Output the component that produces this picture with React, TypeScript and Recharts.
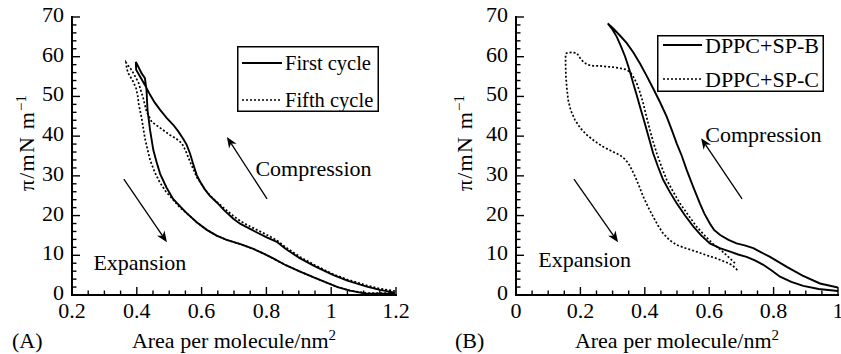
import React from 'react';
import { LineChart, Line, XAxis, YAxis, ReferenceLine, ReferenceDot, Legend } from 'recharts';

const FONT = '"Liberation Serif", "DejaVu Serif", serif';
const FS = 22;
const TS = { fontFamily: FONT, fontSize: FS };

// ---------- Panel A : first vs fifth cycle ----------
const firstCycleArea = [
  1.197, 1.15, 1.11, 1.05, 1.007, 0.95, 0.904, 0.86, 0.832, 0.801, 0.76, 0.72, 0.698, 0.67, 0.647, 0.625,
  0.61, 0.595, 0.585, 0.574, 0.564, 0.554, 0.544, 0.528, 0.513, 0.492, 0.472, 0.455, 0.441, 0.425, 0.41,
  0.398, 0.397,
  0.402, 0.415, 0.425, 0.43, 0.433, 0.441, 0.451, 0.461, 0.472, 0.492, 0.512, 0.533, 0.554, 0.585, 0.616,
  0.645, 0.677, 0.72, 0.76, 0.79, 0.821, 0.86, 0.904, 0.95, 0.986, 1.02, 1.058, 1.11, 1.197,
];
const firstCyclePi = [
  0.6, 1.3, 2.1, 3.6, 5.0, 7.2, 9.2, 11.6, 13.4, 14.5, 16.2, 17.9, 19.2, 21.3, 23.3, 25.0,
  26.6, 28.6, 30.2, 33.0, 35.7, 37.8, 39.2, 41.2, 42.8, 44.6, 46.6, 48.5, 50.4, 52.9, 55.0,
  56.7, 58.7,
  57.9, 55.8, 54.6, 51.6, 46.6, 41.5, 36.5, 33.5, 30.5, 27.0, 24.2, 22.4, 20.6, 18.3, 16.4,
  15.0, 13.9, 12.8, 11.6, 10.5, 9.2, 7.5, 5.9, 4.3, 3.1, 2.0, 1.1, 0.3, 0.3,
];
const fifthCycleArea = [
  1.197, 1.15, 1.11, 1.05, 1.007, 0.95, 0.904, 0.86, 0.832, 0.8, 0.749, 0.72, 0.698, 0.67, 0.636, 0.61,
  0.595, 0.585, 0.574, 0.564, 0.551, 0.539, 0.52, 0.502, 0.475, 0.446, 0.43, 0.42, 0.405, 0.385, 0.367,
  0.369, 0.374, 0.389, 0.398, 0.403, 0.406, 0.41, 0.415, 0.42, 0.425, 0.432, 0.441, 0.455, 0.47, 0.49,
  0.513, 0.533, 0.554, 0.585, 0.616, 0.645, 0.677, 0.72, 0.76, 0.79, 0.821, 0.86, 0.904, 0.95, 0.986,
  1.02, 1.058, 1.11, 1.197,
];
const fifthCyclePi = [
  1.0, 1.6, 2.4, 3.9, 5.2, 7.5, 9.6, 12.0, 13.8, 15.2, 17.3, 18.6, 19.9, 21.8, 24.2, 26.6,
  28.5, 29.6, 31.8, 33.6, 36.3, 38.2, 39.5, 40.3, 41.9, 43.6, 46.2, 49.5, 53.5, 56.5, 58.5,
  57.0, 55.8, 53.7, 52.0, 50.0, 48.0, 46.5, 44.5, 42.0, 39.5, 37.0, 34.0, 31.0, 28.5, 26.0,
  23.9, 22.0, 20.6, 18.3, 16.4, 15.0, 13.9, 12.8, 11.6, 10.5, 9.2, 7.5, 5.9, 4.3, 3.1,
  2.0, 1.1, 0.5, 0.5,
];

// ---------- Panel B : DPPC + SP-B vs DPPC + SP-C ----------
const spbArea = [
  1.0, 0.944, 0.89, 0.841, 0.789, 0.76, 0.737, 0.71, 0.685, 0.66, 0.634, 0.615, 0.602, 0.585, 0.571,
  0.55, 0.53, 0.515, 0.499, 0.484, 0.468, 0.447, 0.426, 0.405, 0.385, 0.365, 0.344, 0.322, 0.302, 0.285,
  0.3, 0.313, 0.326, 0.339, 0.352, 0.364, 0.375, 0.385, 0.396, 0.406, 0.416, 0.426, 0.441, 0.457, 0.478,
  0.499, 0.525, 0.551, 0.575, 0.602, 0.633, 0.665, 0.69, 0.716, 0.742, 0.768, 0.795, 0.82, 0.855, 0.892,
  0.94, 1.0,
];
const spbPi = [
  1.9, 2.9, 4.9, 7.1, 9.6, 10.8, 11.8, 12.5, 13.0, 13.9, 15.1, 16.4, 18.0, 20.5, 23.1,
  27.3, 31.5, 35.0, 38.2, 41.5, 44.9, 48.6, 52.0, 55.3, 58.3, 61.0, 63.4, 65.4, 67.1, 68.4,
  66.8, 65.0, 62.6, 60.0, 56.8, 53.3, 50.3, 47.4, 44.4, 41.5, 38.6, 35.7, 32.3, 29.0, 25.9,
  23.1, 20.0, 17.2, 15.0, 13.0, 11.8, 10.9, 10.2, 9.6, 8.7, 7.6, 6.1, 4.6, 3.3, 2.3,
  1.5, 1.0,
];
const spcArea = [
  0.68, 0.654, 0.634, 0.613, 0.588, 0.561, 0.535, 0.509, 0.488, 0.468, 0.452, 0.437, 0.426, 0.416, 0.405,
  0.395, 0.385, 0.375, 0.364, 0.354, 0.34, 0.323, 0.3, 0.282, 0.26, 0.24, 0.222, 0.209, 0.198, 0.189,
  0.173, 0.157, 0.154,
  0.154, 0.155, 0.158, 0.162, 0.17, 0.183, 0.2, 0.22, 0.245, 0.271, 0.298, 0.323, 0.337, 0.349, 0.36,
  0.37, 0.383, 0.395, 0.41, 0.426, 0.441, 0.457, 0.477, 0.499, 0.53, 0.561, 0.592, 0.623, 0.648, 0.67,
  0.69,
];
const spcPi = [
  8.0, 10.0, 11.5, 12.8, 14.8, 17.2, 20.1, 23.1, 26.0, 29.0, 32.3, 35.7, 38.6, 41.5, 45.0,
  48.3, 51.0, 53.3, 55.0, 56.2, 56.8, 57.1, 57.4, 57.5, 57.7, 57.7, 58.0, 58.7, 59.8, 60.9,
  61.1, 60.9, 60.5,
  58.0, 55.0, 52.0, 49.1, 46.5, 44.1, 42.0, 40.3, 38.7, 37.3, 36.2, 35.2, 34.3, 33.2, 31.5,
  29.8, 27.3, 24.8, 22.2, 19.7, 17.5, 15.5, 13.8, 12.6, 11.7, 10.9, 10.0, 9.2, 8.4, 7.6,
  6.1,
];

// ---------- ticks & labels ----------
const panelAXTicks = [0.2, 0.4, 0.6, 0.8, 1, 1.2];
const panelBXTicks = [0, 0.2, 0.4, 0.6, 0.8, 1];
const piTicks = [0, 10, 20, 30, 40, 50, 60, 70];
const legendA = ['First cycle', 'Fifth cycle'];
const legendB = ['DPPC+SP-B', 'DPPC+SP-C'];
const xTitle = 'Area per molecule/nm';
const yTitle = 'π/mN m';
const compressionLabel = 'Compression';
const expansionLabel = 'Expansion';

const zip = (xs: number[], ys: number[]) => xs.map((x, i) => ({ x, y: ys[i] }));

const withMinor = (majors: number[], per: number) => {
  const out: number[] = [];
  for (let i = 0; i < majors.length - 1; i++) {
    const a = majors[i];
    const b = majors[i + 1];
    for (let k = 0; k < per; k++) out.push(+(a + ((b - a) * k) / per).toFixed(4));
  }
  out.push(majors[majors.length - 1]);
  return out;
};

const isMajor = (v: number, majors: number[]) => majors.some((m) => Math.abs(m - v) < 1e-6);
const fmt = (v: number) => String(Math.round(v * 100) / 100);

const makeTick = (side: 'bottom' | 'top' | 'left' | 'right', majors: number[], showLabel: boolean) =>
  (props: any) => {
    const { x, y, payload } = props;
    const v = payload.value;
    const major = isMajor(v, majors);
    const len = major ? 8 : 4.5;
    let x2 = x;
    let y2 = y;
    if (side === 'bottom') y2 = y - len;
    if (side === 'top') y2 = y + len;
    if (side === 'left') x2 = x + len;
    if (side === 'right') x2 = x - len;
    let label = null;
    if (showLabel && major) {
      if (side === 'bottom') {
        label = (
          <text x={x} y={y + 23} textAnchor="middle" style={TS} fill="#000">
            {fmt(v)}
          </text>
        );
      } else if (side === 'left') {
        label = (
          <text x={x - 8} y={y + 5} textAnchor="end" style={TS} fill="#000">
            {fmt(v)}
          </text>
        );
      }
    }
    return (
      <g>
        <line x1={x} y1={y} x2={x2} y2={y2} stroke="#000" strokeWidth={1.4} />
        {label}
      </g>
    );
  };

const Arrow = (p: any) => {
  const { x1, y1, x2, y2 } = p;
  const dx = x2 - x1;
  const dy = y2 - y1;
  const len = Math.hypot(dx, dy) || 1;
  const ux = dx / len;
  const uy = dy / len;
  const hl = 11;
  const hw = 4.5;
  const bx = x2 - ux * hl;
  const by = y2 - uy * hl;
  const nx = x2 - ux * hl * 0.7;
  const ny = y2 - uy * hl * 0.7;
  const pts = `${x2},${y2} ${bx - uy * hw},${by + ux * hw} ${nx},${ny} ${bx + uy * hw},${by - ux * hw}`;
  return (
    <g>
      <line x1={x1} y1={y1} x2={nx} y2={ny} stroke="#000" strokeWidth={1.3} />
      <polygon points={pts} fill="#000" />
    </g>
  );
};

const noteShape = (text: string) => (p: any) => (
  <text x={p.cx} y={p.cy} dy="0.35em" textAnchor="start" style={TS} fill="#000">
    {text}
  </text>
);

type Series = { data: { x: number; y: number }[]; dash?: string };

const LegendBox = ({ w, h, items, rows, lineX1, lineX2, textX, fontSize }: any) => (
  <svg width={w} height={h} style={{ display: 'block', overflow: 'visible' }}>
    <rect x={0.75} y={0.75} width={w - 1.5} height={h - 1.5} fill="#fff" stroke="#000" strokeWidth={1.5} />
    {items.map((it: any, i: number) => (
      <g key={i}>
        <line
          x1={lineX1}
          x2={lineX2}
          y1={rows[i]}
          y2={rows[i]}
          stroke="#000"
          strokeWidth={it.dash ? 1.6 : 1.8}
          strokeDasharray={it.dash}
        />
        <text x={textX} y={rows[i]} dy="0.35em" style={{ fontFamily: FONT, fontSize }} fill="#000">
          {it.label}
        </text>
      </g>
    ))}
  </svg>
);

const axisLine = { stroke: '#000', strokeWidth: 2, strokeLinecap: 'square' as const };

function Panel(props: any) {
  const {
    left, width, yAxisWidth, marginRight, xDomain, xMajor, lines, legend, arrows, notes, tag, tagX, yTitleX,
  } = props;
  const xTicks = withMinor(xMajor, 4);
  const yTicks = withMinor(piTicks, 5);
  return (
    <div style={{ position: 'absolute', left, top: 0, width, height: 354, fontFamily: FONT }}>
      <LineChart width={width} height={354} margin={{ top: 17, right: marginRight, bottom: 0, left: 0 }} style={{ fontFamily: FONT }}>
        <XAxis
          xAxisId={0}
          dataKey="x"
          type="number"
          domain={xDomain}
          ticks={xTicks}
          interval={0}
          allowDataOverflow
          height={59}
          tickSize={0}
          tickMargin={0}
          axisLine={axisLine}
          tickLine={false}
          tick={makeTick('bottom', xMajor, true)}
          label={{
            content: (p: any) => {
              const vb = p.viewBox || { x: yAxisWidth, y: 295, width: width - yAxisWidth - marginRight, height: 59 };
              return (
                <g>
                  <text x={vb.x + vb.width / 2} y={vb.y + 53} textAnchor="middle" style={TS} fill="#000">
                    {xTitle}
                    <tspan dy={-8} style={{ fontSize: 15 }}>2</tspan>
                  </text>
                  <text x={tagX} y={vb.y + 53} style={TS} fill="#000">
                    {tag}
                  </text>
                </g>
              );
            },
          }}
        />
        <XAxis
          xAxisId="top"
          orientation="top"
          dataKey="x"
          type="number"
          domain={xDomain}
          ticks={xTicks}
          interval={0}
          allowDataOverflow
          height={0}
          tickSize={0}
          tickMargin={0}
          axisLine={axisLine}
          tickLine={false}
          tick={makeTick('top', xMajor, false)}
        />
        <YAxis
          yAxisId={0}
          type="number"
          domain={[0, 70]}
          ticks={yTicks}
          interval={0}
          allowDataOverflow
          width={yAxisWidth}
          tickSize={0}
          tickMargin={0}
          axisLine={axisLine}
          tickLine={false}
          tick={makeTick('left', piTicks, true)}
          label={{
            content: () => {
              const cx = yTitleX;
              const cy = 143;
              return (
                <text
                  x={cx}
                  y={cy}
                  transform={`rotate(-90 ${cx} ${cy})`}
                  textAnchor="middle"
                  dy="0.35em"
                  style={{ ...TS, letterSpacing: 1.2 }}
                  fill="#000"
                >
                  {yTitle}
                  <tspan dy={-8} style={{ fontSize: 15, letterSpacing: 0 }}>−1</tspan>
                </text>
              );
            },
          }}
        />
        <YAxis
          yAxisId="right"
          orientation="right"
          type="number"
          domain={[0, 70]}
          ticks={yTicks}
          interval={0}
          allowDataOverflow
          width={0}
          tickSize={0}
          tickMargin={0}
          axisLine={axisLine}
          tickLine={false}
          tick={makeTick('right', piTicks, false)}
        />
        {lines.map((l: Series, i: number) => (
          <Line
            key={i}
            data={l.data}
            dataKey="y"
            xAxisId={0}
            yAxisId={0}
            type="linear"
            stroke="#000"
            strokeWidth={l.dash ? 1.7 : 1.9}
            strokeDasharray={l.dash}
            dot={false}
            activeDot={false}
            isAnimationActive={false}
          />
        ))}
        {arrows.map((a: any, i: number) => (
          <ReferenceLine
            key={'a' + i}
            xAxisId={0}
            yAxisId={0}
            segment={a}
            ifOverflow="visible"
            shape={(p: any) => <Arrow {...p} />}
          />
        ))}
        {notes.map((n: any, i: number) => (
          <ReferenceDot
            key={'n' + i}
            xAxisId={0}
            yAxisId={0}
            x={n.x}
            y={n.y}
            r={1}
            ifOverflow="visible"
            shape={noteShape(n.text)}
          />
        ))}
        <Legend
          layout="horizontal"
          verticalAlign="middle"
          align="center"
          wrapperStyle={{ left: legend.left, top: legend.top, width: legend.w, height: legend.h }}
          content={() => <LegendBox {...legend} />}
        />
      </LineChart>
    </div>
  );
}

export default function App() {
  return (
    <div style={{ position: 'absolute', left: 0, top: 0, width: 841, height: 354, background: '#fff', fontFamily: FONT }}>
      <Panel
        left={0}
        width={420}
        yAxisWidth={72}
        marginRight={24}
        xDomain={[0.2, 1.2]}
        xMajor={panelAXTicks}
        tag="(A)"
        tagX={12}
        yTitleX={26}
        lines={[
          { data: zip(firstCycleArea, firstCyclePi) },
          { data: zip(fifthCycleArea, fifthCyclePi), dash: '2 2' },
        ]}
        arrows={[
          [{ x: 0.802, y: 24.2 }, { x: 0.678, y: 39.8 }],
          [{ x: 0.36, y: 29.2 }, { x: 0.493, y: 13.3 }],
        ]}
        notes={[
          { x: 0.766, y: 31.8, text: compressionLabel },
          { x: 0.266, y: 8.3, text: expansionLabel },
        ]}
        legend={{
          left: 237, top: 46, w: 142, h: 66,
          rows: [17, 54], lineX1: 5, lineX2: 45, textX: 48, fontSize: 20.5,
          items: [
            { label: legendA[0] },
            { label: legendA[1], dash: '2 2' },
          ],
        }}
      />
      <Panel
        left={420}
        width={421}
        yAxisWidth={96}
        marginRight={3}
        xDomain={[0, 1]}
        xMajor={panelBXTicks}
        tag="(B)"
        tagX={35}
        yTitleX={44}
        lines={[
          { data: zip(spbArea, spbPi) },
          { data: zip(spcArea, spcPi), dash: '2 2' },
        ]}
        arrows={[
          [{ x: 0.702, y: 24.2 }, { x: 0.575, y: 39.5 }],
          [{ x: 0.18, y: 29.2 }, { x: 0.317, y: 13.3 }],
        ]}
        notes={[
          { x: 0.588, y: 40.5, text: compressionLabel },
          { x: 0.069, y: 9.1, text: expansionLabel },
        ]}
        legend={{
          left: 237, top: 35, w: 167, h: 57,
          rows: [10, 44], lineX1: 6, lineX2: 45, textX: 48, fontSize: 22,
          items: [
            { label: legendB[0] },
            { label: legendB[1], dash: '2 2' },
          ],
        }}
      />
    </div>
  );
}
